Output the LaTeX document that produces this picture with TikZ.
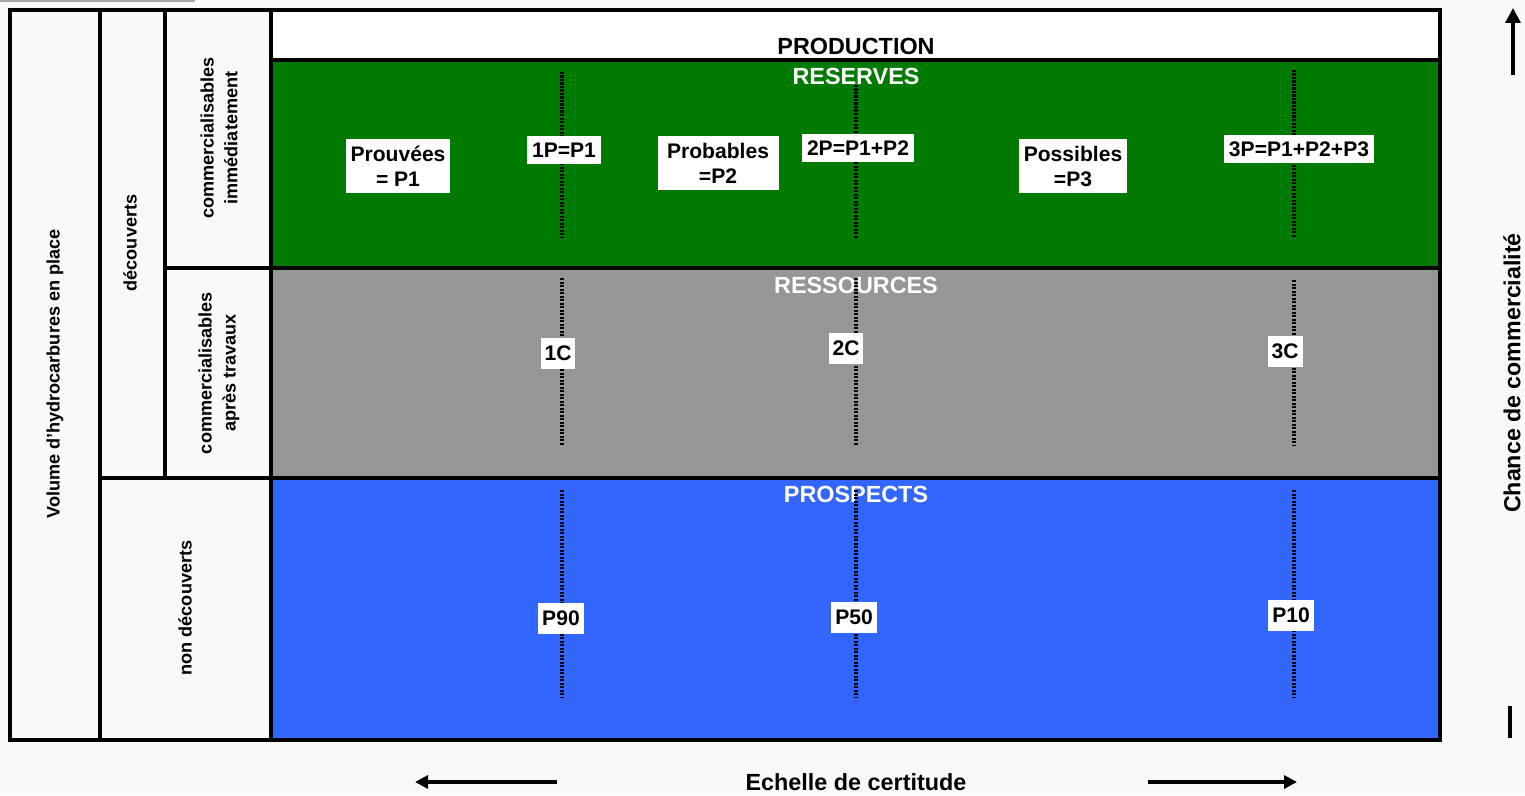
\documentclass[tikz,border=0pt]{standalone}
\usepackage{fontspec}
\setmainfont{Liberation Sans}
\usetikzlibrary{arrows.meta, positioning}
\definecolor{resgreen}{RGB}{0,122,0}
\definecolor{resgrey}{RGB}{150,150,150}
\definecolor{prosblue}{RGB}{51,102,255}
\definecolor{paper}{RGB}{249,249,249}

\begin{document}
\begin{tikzpicture}[
			x=0.2mm, y=-0.2mm,
			frame/.style={line width=0.7mm},
			tag/.style={fill=white, align=center, inner xsep=1mm, inner ysep=1.4mm, font=\bfseries\fontsize{12}{14.2}\selectfont},
			tall/.style={tag, minimum height=6.2mm, inner xsep=0.8mm},
			title/.style={font=\bfseries\fontsize{13.3}{15}\selectfont},
			band/.style={title, text=white},
			side/.style={rotate=90, align=center, font=\bfseries\fontsize{10.3}{13.6}\selectfont},
			dots/.style={line width=0.75mm, dash pattern=on 0.45mm off 0.25mm},
			arrow/.style={-{Triangle[length=2.6mm, width=2.6mm]}, line width=0.65mm}
			]
			\useasboundingbox (0,0) rectangle (1525,795);
			\fill[paper] (0,0) rectangle (1525,795);
			\draw[gray!70, line width=0.25mm] (0,1) -- (195,1);
			
			% bands
			\fill[white] (271,10) rectangle (1440,60);
			\fill[resgreen] (271,60) rectangle (1440,268);
			\fill[resgrey] (271,268) rectangle (1440,478);
			\fill[prosblue] (271,478) rectangle (1440,740);
			
			% frame
			\draw[frame] (10,10) rectangle (1440,740);
			\draw[frame] (100,10) -- (100,740);
			\draw[frame] (165,10) -- (165,478);
			\draw[frame] (271,10) -- (271,740);
			\draw[frame] (100,478) -- (1440,478);
			\draw[frame] (165,268) -- (1440,268);
			\draw[frame] (271,60) -- (1440,60);
			
			\node[title] (prod) at (856,46) {PRODUCTION};
			\node[band] (res) at (856,76) {RESERVES};
			\node[band] (ress) at (856,285) {RESSOURCES};
			\node[band] (pros) at (856,494) {PROSPECTS};
			
			\node[side] (vol) at (55,374) {Volume d'hydrocarbures en place};
			\node[side] (dec) at (130,243) {découverts};
			\node[side] (imm) at (219,138) {commercialisables\\immédiatement};
			\node[side] (trav) at (219,373) {commercialisables\\après travaux};
			\node[side] (ndec) at (185,608) {non découverts};
			\node[side, font=\bfseries\fontsize{13.2}{15}\selectfont] (chance) at (1512,373) {Chance de commercialité};
			
			% dotted lines
			\foreach \x/\a/\b in {562/72/238, 856/85/238, 1294/70/238,
				562/278/445, 856/278/445, 1294/280/445,
				562/490/697, 856/490/697, 1294/490/697}
				\draw[dots] (\x,\a) -- (\x,\b);
			
			\node[tag, minimum width=20.2mm] (p1) at (398,166) {Prouvées\\= P1};
			\node[tag] (onep) at (564,150) {1P=P1};
			\node[tag, minimum width=24.2mm] (p2) at (718,163) {Probables\\=P2};
			\node[tag] (twop) at (858,148) {2P=P1+P2};
			\node[tag, minimum width=21mm] (p3) at (1073,166) {Possibles\\=P3};
			\node[tag] (threep) at (1299,149) {3P=P1+P2+P3};
			\node[tall] (onec) at (558,353) {1C};
			\node[tall] (twoc) at (846,348) {2C};
			\node[tall] (threec) at (1285,351) {3C};
			\node[tall] (p90) at (561,618) {P90};
			\node[tall] (p50) at (854,617) {P50};
			\node[tall] (p10) at (1291,615) {P10};
			
			\node[title] (ech) at (856,782) {Echelle de certitude};
			\coordinate (lfrom) at (557,782);
			\coordinate (lto) at (415,782);
			\coordinate (rfrom) at (1148,782);
			\coordinate (rto) at (1297,782);
			\draw[arrow] (lfrom) -- (lto);
			\draw[arrow] (rfrom) -- (rto);
			
			\coordinate (upfrom) at (1513,75);
			\coordinate (upto) at (1513,8);
			\coordinate (lowa) at (1510,706);
			\coordinate (lowb) at (1510,738);
			\draw[arrow, -{Triangle[length=3mm, width=3mm]}] (upfrom) -- (upto);
			\draw[frame] (lowa) -- (lowb);
		\end{tikzpicture}
\end{document}
